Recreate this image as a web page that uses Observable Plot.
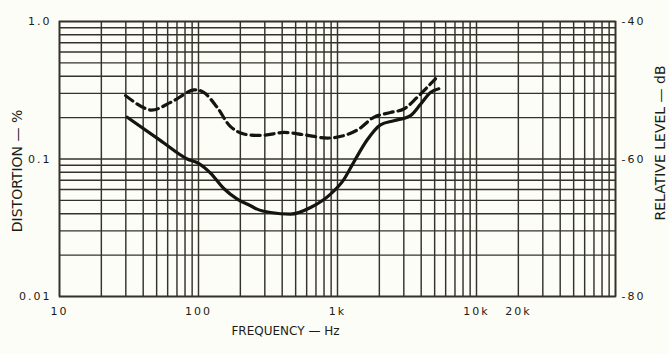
<!DOCTYPE html>
<html><head><meta charset="utf-8">
<script src="https://cdn.jsdelivr.net/npm/d3@7"></script>
<script src="https://cdn.jsdelivr.net/npm/@observablehq/plot@0.6"></script>
<style>
body{margin:0;background:#fdfdf8}
svg g[aria-label="x-axis tick label"] text,
svg g[aria-label="y-axis tick label"] text{letter-spacing:2px}
</style>
</head><body><div id="chart"></div>
<script>
// Solid curve (distortion vs frequency)
const solidFreq = [30.7, 53.4, 83, 100, 122, 152, 190, 237, 264, 330, 459, 640, 891, 1100, 1310, 1637, 2037, 2543, 3350, 3955, 4667, 5357];
const solidDist = [0.201, 0.136, 0.100, 0.093, 0.079, 0.0610, 0.0511, 0.0457, 0.0432, 0.0408, 0.0397, 0.0444, 0.0556, 0.070, 0.095, 0.138, 0.177, 0.190, 0.207, 0.250, 0.305, 0.324];
// Dashed curve
const dashFreq = [29.9, 45.2, 63, 92.5, 109, 136, 170, 212, 295, 411, 573, 843, 1110, 1423, 1824, 2404, 3000, 3743, 4416, 5070];
const dashDist = [0.289, 0.227, 0.258, 0.318, 0.305, 0.238, 0.172, 0.152, 0.149, 0.156, 0.150, 0.142, 0.148, 0.165, 0.201, 0.218, 0.231, 0.281, 0.332, 0.383];

const xTickValues = [10, 100, 1000, 10000, 20000];
const xTickLabels = ["10", "100", "1k", "10k", "20k"];
const yTickValues = [0.01, 0.1, 1];
const yTickLabels = ["0.01", "0.1", "1.0"];
const dbTickLabels = ["-80", "-60", "-40"];

const xDecades = [10, 100, 1000, 10000];
const yDecades = [0.01, 0.1];
const gridMultipliers = [1, 2, 3, 4, 5, 6, 7, 8, 9];
const xGrid = xDecades.flatMap(d => gridMultipliers.map(m => d * m)).concat([100000]);
const yGrid = yDecades.flatMap(d => gridMultipliers.map(m => d * m)).concat([1]);

const solid = solidFreq.map((f, i) => ({f, d: solidDist[i]}));
const dash = dashFreq.map((f, i) => ({f, d: dashDist[i]}));

const gridColor = "#34322a";
const inkColor = "#15150f";
const textColor = "#1c1c16";

const chart = Plot.plot({
  width: 669, height: 354,
  marginLeft: 59, marginRight: 54, marginTop: 21, marginBottom: 58,
  x: {type: "log", domain: [10, 100000]},
  y: {type: "log", domain: [0.01, 1]},
  style: {fontFamily: "'DejaVu Sans', sans-serif", fontSize: "11px", background: "#fdfdf8", color: textColor},
  marks: [
    Plot.ruleX(xGrid, {stroke: gridColor, strokeWidth: 1.45}),
    Plot.ruleY(yGrid, {stroke: gridColor, strokeWidth: 1.45}),
    Plot.frame({stroke: gridColor, strokeWidth: 1.7}),
    Plot.line(solid, {x: "f", y: "d", curve: "monotone-x", stroke: inkColor, strokeWidth: 3.2}),
    Plot.line(dash, {x: "f", y: "d", curve: "catmull-rom", stroke: inkColor, strokeWidth: 3.2, strokeDasharray: "9,5"}),
    Plot.axisX({ticks: xTickValues, tickFormat: d => xTickLabels[xTickValues.indexOf(d)], tickSize: 0, tickPadding: 11, label: null}),
    Plot.axisY({anchor: "left", ticks: yTickValues, tickFormat: d => yTickLabels[yTickValues.indexOf(d)], tickSize: 0, tickPadding: 8, label: null}),
    Plot.axisY({anchor: "right", ticks: yTickValues, tickFormat: d => dbTickLabels[yTickValues.indexOf(d)], tickSize: 0, tickPadding: 6, label: null}),
    Plot.text(["FREQUENCY — Hz"], {text: d => d, frameAnchor: "bottom", dx: -52, dy: 38, fontSize: 12, fill: textColor}),
    Plot.text(["DISTORTION — %"], {text: d => d, frameAnchor: "left", dx: -42, dy: 12, rotate: -90, lineAnchor: "middle", textAnchor: "middle", fontSize: 14, fill: textColor}),
    Plot.text(["RELATIVE LEVEL — dB"], {text: d => d, frameAnchor: "right", dx: 45, dy: -16, rotate: -90, lineAnchor: "middle", textAnchor: "middle", fontSize: 14, fill: textColor})
  ]
});
document.getElementById("chart").appendChild(chart);
</script>
</body></html>
